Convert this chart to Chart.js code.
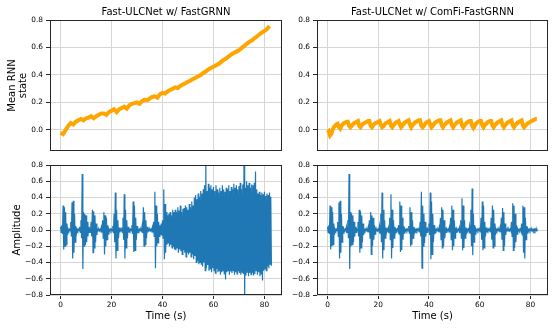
<!DOCTYPE html>
<html>
<head>
<meta charset="utf-8">
<script src="https://cdn.jsdelivr.net/npm/chart.js@4.4.0/dist/chart.umd.min.js"></script>
<style>
  body { margin: 0; background: #fff; }
  #wrap { position: relative; width: 556px; height: 330px; overflow: hidden; }
  canvas { position: absolute; }
</style>
</head>
<body>
<div id="wrap">
  <canvas id="fast_state" width="290" height="152" style="left:0px;top:0px"></canvas>
  <canvas id="comfi_state" width="290" height="152" style="left:266px;top:0px"></canvas>
  <canvas id="fast_wave" width="290" height="178" style="left:0px;top:152px"></canvas>
  <canvas id="comfi_wave" width="290" height="178" style="left:266px;top:152px"></canvas>
</div>
<script>
const titles = ['Fast-ULCNet w/ FastGRNN', 'Fast-ULCNet w/ ComFi-FastGRNN'];
const timeTicks = [0, 20, 40, 60, 80];
const stateTicks = [0.0, 0.2, 0.4, 0.6, 0.8];
const ampTicks = [-0.8, -0.6, -0.4, -0.2, 0.0, 0.2, 0.4, 0.6, 0.8];

// mean RNN state (FastGRNN), one value per second
const stateStepFast = 1;
const stateFast = [
  -0.02, -0.03, 0.00, 0.03, 0.05, 0.04, 0.06, 0.07, 0.08, 0.07,
  0.085, 0.09, 0.10, 0.085, 0.10, 0.11, 0.12, 0.12, 0.11, 0.13,
  0.14, 0.15, 0.13, 0.15, 0.16, 0.17, 0.155, 0.18, 0.19, 0.195,
  0.20, 0.19, 0.21, 0.22, 0.215, 0.23, 0.24, 0.245, 0.235, 0.26,
  0.27, 0.265, 0.28, 0.29, 0.30, 0.31, 0.305, 0.32, 0.33, 0.34,
  0.35, 0.36, 0.37, 0.38, 0.39, 0.40, 0.415, 0.425, 0.44, 0.45,
  0.46, 0.47, 0.48, 0.495, 0.51, 0.52, 0.535, 0.55, 0.56, 0.57,
  0.58, 0.595, 0.61, 0.625, 0.64, 0.65, 0.665, 0.68, 0.695, 0.71,
  0.72, 0.735, 0.755
];

// mean RNN state (ComFi-FastGRNN), one value every 0.5 s
const stateStepComfi = 0.5;
const stateComfi = [
  -0.02, -0.01, -0.04, -0.03, 0.00, 0.02, 0.03, 0.04, 0.045, 0.02,
  0.01, 0.03, 0.04, 0.05, 0.055, 0.06, 0.06, 0.03, 0.02, 0.03,
  0.04, 0.05, 0.055, 0.06, 0.065, 0.03, 0.02, 0.035, 0.045, 0.05,
  0.055, 0.06, 0.065, 0.065, 0.03, 0.02, 0.035, 0.045, 0.05, 0.055,
  0.06, 0.065, 0.04, 0.02, 0.025, 0.04, 0.05, 0.055, 0.06, 0.065,
  0.03, 0.02, 0.035, 0.045, 0.055, 0.06, 0.065, 0.04, 0.02, 0.03,
  0.045, 0.055, 0.06, 0.065, 0.07, 0.04, 0.02, 0.035, 0.045, 0.055,
  0.06, 0.065, 0.07, 0.07, 0.03, 0.02, 0.03, 0.045, 0.055, 0.06,
  0.065, 0.04, 0.02, 0.03, 0.045, 0.055, 0.06, 0.065, 0.07, 0.07,
  0.035, 0.02, 0.035, 0.045, 0.055, 0.06, 0.065, 0.07, 0.035, 0.02,
  0.035, 0.045, 0.055, 0.06, 0.065, 0.07, 0.035, 0.02, 0.035, 0.045,
  0.055, 0.06, 0.065, 0.065, 0.03, 0.015, 0.03, 0.045, 0.055, 0.06,
  0.065, 0.065, 0.035, 0.02, 0.035, 0.045, 0.055, 0.06, 0.065, 0.065,
  0.035, 0.02, 0.035, 0.045, 0.055, 0.06, 0.065, 0.07, 0.035, 0.02,
  0.035, 0.045, 0.055, 0.06, 0.065, 0.07, 0.035, 0.02, 0.035, 0.045,
  0.055, 0.06, 0.065, 0.07, 0.035, 0.02, 0.03, 0.04, 0.05, 0.055,
  0.06, 0.065, 0.07, 0.075, 0.08, 0.08
];

// waveform envelope (max / min in each 0.5 s slot)
const waveStep = 0.5;
const waveFastHi = [
  0.04, 0.06, 0.30, 0.28, 0.22, 0.08, 0.01, 0.01, 0.10, 0.34,
  0.36, 0.20, 0.05, 0.01, 0.01, 0.04, 0.12, 0.69, 0.22, 0.20,
  0.18, 0.10, 0.04, 0.01, 0.10, 0.25, 0.23, 0.18, 0.08, 0.01,
  0.01, 0.01, 0.03, 0.12, 0.22, 0.18, 0.15, 0.06, 0.01, 0.01,
  0.01, 0.05, 0.20, 0.46, 0.25, 0.12, 0.03, 0.01, 0.03, 0.15,
  0.44, 0.25, 0.12, 0.04, 0.01, 0.01, 0.06, 0.35, 0.30, 0.15,
  0.05, 0.01, 0.01, 0.01, 0.05, 0.28, 0.22, 0.12, 0.04, 0.01,
  0.01, 0.01, 0.03, 0.10, 0.47, 0.30, 0.20, 0.10, 0.06, 0.08,
  0.12, 0.50, 0.32, 0.22, 0.18, 0.20, 0.22, 0.18, 0.25, 0.22,
  0.25, 0.22, 0.28, 0.24, 0.30, 0.22, 0.26, 0.27, 0.30, 0.28,
  0.25, 0.32, 0.28, 0.35, 0.30, 0.40, 0.43, 0.38, 0.45, 0.41,
  0.48, 0.45, 0.50, 0.55, 0.85, 0.48, 0.57, 0.52, 0.55, 0.50,
  0.53, 0.48, 0.55, 0.50, 0.46, 0.52, 0.48, 0.55, 0.50, 0.47,
  0.52, 0.50, 0.55, 0.48, 0.53, 0.50, 0.57, 0.52, 0.55, 0.50,
  0.54, 0.58, 0.50, 0.56, 0.85, 0.52, 0.60, 0.55, 0.58, 0.52,
  0.56, 0.55, 0.58, 0.72, 0.50, 0.45, 0.47, 0.43, 0.46, 0.44,
  0.47, 0.42, 0.45, 0.43, 0.46, 0.41
];
const waveFastLo = [
  -0.03, -0.05, -0.24, -0.20, -0.18, -0.06, -0.01, -0.01, -0.08, -0.35,
  -0.28, -0.15, -0.04, -0.01, -0.01, -0.03, -0.10, -0.48, -0.20, -0.18,
  -0.15, -0.08, -0.03, -0.01, -0.08, -0.28, -0.22, -0.15, -0.06, -0.01,
  -0.01, -0.01, -0.03, -0.10, -0.30, -0.20, -0.12, -0.05, -0.01, -0.01,
  -0.01, -0.04, -0.15, -0.35, -0.25, -0.10, -0.03, -0.01, -0.03, -0.12,
  -0.35, -0.22, -0.10, -0.03, -0.01, -0.01, -0.05, -0.27, -0.25, -0.12,
  -0.04, -0.01, -0.01, -0.01, -0.04, -0.20, -0.18, -0.10, -0.03, -0.01,
  -0.01, -0.01, -0.03, -0.08, -0.47, -0.20, -0.16, -0.08, -0.06, -0.07,
  -0.10, -0.36, -0.28, -0.18, -0.16, -0.20, -0.18, -0.22, -0.20, -0.24,
  -0.25, -0.22, -0.28, -0.24, -0.26, -0.30, -0.25, -0.28, -0.33, -0.27,
  -0.30, -0.28, -0.33, -0.30, -0.36, -0.32, -0.40, -0.38, -0.42, -0.40,
  -0.42, -0.45, -0.40, -0.50, -0.47, -0.43, -0.50, -0.48, -0.52, -0.47,
  -0.50, -0.53, -0.48, -0.52, -0.50, -0.55, -0.52, -0.50, -0.54, -0.61,
  -0.52, -0.50, -0.55, -0.51, -0.53, -0.50, -0.55, -0.52, -0.54, -0.50,
  -0.53, -0.55, -0.52, -0.54, -0.85, -0.56, -0.52, -0.57, -0.53, -0.55,
  -0.52, -0.56, -0.54, -0.50, -0.55, -0.52, -0.57, -0.54, -0.62, -0.50,
  -0.48, -0.50, -0.45, -0.47, -0.42, -0.44
];
const waveComfiHi = [
  0.04, 0.06, 0.30, 0.28, 0.22, 0.08, 0.01, 0.01, 0.10, 0.34,
  0.36, 0.20, 0.05, 0.01, 0.01, 0.04, 0.12, 0.69, 0.22, 0.20,
  0.18, 0.10, 0.04, 0.01, 0.10, 0.25, 0.23, 0.18, 0.08, 0.01,
  0.01, 0.01, 0.03, 0.12, 0.22, 0.18, 0.15, 0.06, 0.01, 0.01,
  0.01, 0.05, 0.20, 0.46, 0.25, 0.12, 0.03, 0.01, 0.03, 0.15,
  0.44, 0.25, 0.12, 0.04, 0.01, 0.01, 0.06, 0.35, 0.30, 0.15,
  0.05, 0.01, 0.01, 0.01, 0.05, 0.28, 0.22, 0.12, 0.04, 0.01,
  0.01, 0.01, 0.03, 0.10, 0.47, 0.30, 0.20, 0.10, 0.03, 0.01,
  0.08, 0.46, 0.35, 0.20, 0.06, 0.01, 0.01, 0.01, 0.03, 0.15,
  0.28, 0.25, 0.12, 0.03, 0.01, 0.01, 0.03, 0.15, 0.30, 0.25,
  0.12, 0.03, 0.01, 0.01, 0.03, 0.12, 0.39, 0.30, 0.12, 0.03,
  0.01, 0.01, 0.05, 0.25, 0.51, 0.20, 0.06, 0.01, 0.01, 0.01,
  0.03, 0.15, 0.35, 0.30, 0.10, 0.03, 0.01, 0.01, 0.03, 0.15,
  0.30, 0.25, 0.08, 0.01, 0.01, 0.01, 0.03, 0.15, 0.27, 0.22,
  0.08, 0.01, 0.01, 0.01, 0.01, 0.10, 0.33, 0.30, 0.20, 0.06,
  0.01, 0.01, 0.01, 0.08, 0.30, 0.28, 0.15, 0.05, 0.01, 0.01,
  0.01, 0.01, 0.01, 0.01, 0.01, 0.01
];
const waveComfiLo = [
  -0.03, -0.05, -0.24, -0.20, -0.18, -0.06, -0.01, -0.01, -0.08, -0.35,
  -0.28, -0.15, -0.04, -0.01, -0.01, -0.03, -0.10, -0.48, -0.20, -0.18,
  -0.15, -0.08, -0.03, -0.01, -0.08, -0.28, -0.22, -0.15, -0.06, -0.01,
  -0.01, -0.01, -0.03, -0.10, -0.30, -0.20, -0.12, -0.05, -0.01, -0.01,
  -0.01, -0.04, -0.15, -0.35, -0.25, -0.10, -0.03, -0.01, -0.03, -0.12,
  -0.35, -0.22, -0.10, -0.03, -0.01, -0.01, -0.05, -0.27, -0.25, -0.12,
  -0.04, -0.01, -0.01, -0.01, -0.04, -0.20, -0.18, -0.10, -0.03, -0.01,
  -0.01, -0.01, -0.03, -0.08, -0.47, -0.20, -0.16, -0.08, -0.03, -0.01,
  -0.06, -0.36, -0.30, -0.15, -0.05, -0.01, -0.01, -0.01, -0.03, -0.12,
  -0.22, -0.20, -0.10, -0.03, -0.01, -0.01, -0.03, -0.12, -0.25, -0.20,
  -0.10, -0.03, -0.01, -0.01, -0.03, -0.10, -0.25, -0.22, -0.10, -0.03,
  -0.01, -0.01, -0.04, -0.20, -0.31, -0.15, -0.05, -0.01, -0.01, -0.01,
  -0.03, -0.12, -0.25, -0.22, -0.08, -0.03, -0.01, -0.01, -0.03, -0.12,
  -0.22, -0.20, -0.06, -0.01, -0.01, -0.01, -0.03, -0.12, -0.25, -0.20,
  -0.06, -0.01, -0.01, -0.01, -0.01, -0.08, -0.25, -0.22, -0.15, -0.05,
  -0.01, -0.01, -0.01, -0.06, -0.28, -0.35, -0.12, -0.04, -0.01, -0.01,
  -0.01, -0.01, -0.01, -0.01, -0.01, -0.01
];

Chart.defaults.font.family = 'DejaVu Sans';
Chart.defaults.color = '#000';

const gridColor = '#d6d6d6';
const spineColor = '#262626';

// black box round the plot area, like matplotlib spines
const frame = {
    id: 'frame',
    afterDatasetsDraw(chart) {
        const a = chart.chartArea;
        const ctx = chart.ctx;
        ctx.save();
        ctx.strokeStyle = spineColor;
        ctx.lineWidth = 1;
        ctx.strokeRect(Math.round(a.left) + 0.5, Math.round(a.top) + 0.5,
            Math.round(a.right - a.left) - 1, Math.round(a.bottom - a.top) - 1);
        ctx.restore();
    }
};

function linePoints(values, step) {
    return values.map((v, i) => ({x: i * step, y: v}));
}

// zigzag between the max and min of each slot so it reads as a waveform
function wavePoints(hi, lo, step) {
    let pts = [];
    for (let i = 0; i < hi.length; i++) {
        pts.push({x: i * step, y: hi[i]});
        pts.push({x: i * step + step / 2, y: lo[i]});
    }
    return pts;
}

function fmt(v) {
    return (v < 0 ? '\u2212' : '') + Math.abs(v).toFixed(1);
}

function makeChart(id, pts, color, lw, o) {
    return new Chart(document.getElementById(id), {
        type: 'line',
        data: {
            datasets: [{
                data: pts,
                borderColor: color,
                borderWidth: lw,
                pointRadius: 0,
                tension: 0,
                clip: 0,
            }]
        },
        options: {
            responsive: false,
            animation: false,
            events: [],
            layout: { padding: o.pad },
            plugins: {
                legend: { display: false },
                tooltip: { enabled: false },
                title: {
                    display: !!o.title,
                    text: o.title || '',
                    fullSize: false,
                    color: '#000',
                    font: { size: 10, weight: 'normal', lineHeight: 1.2 },
                    padding: { top: 6, bottom: 2 },
                },
            },
            scales: {
                x: {
                    type: 'linear',
                    min: -4.14,
                    max: 86.9,
                    afterBuildTicks: s => { s.ticks = timeTicks.map(v => ({value: v})); },
                    afterFit: s => { s.height = o.xHeight; s.paddingLeft = 0; s.paddingRight = 0; },
                    border: { display: false },
                    grid: { color: gridColor, lineWidth: 1, drawTicks: o.xLabels, tickLength: 4, tickColor: spineColor },
                    ticks: { display: o.xLabels, padding: 1.5, font: { size: 7.4 }, callback: v => String(v) },
                    title: {
                        display: o.xLabels,
                        text: 'Time (s)',
                        font: { size: 10, lineHeight: 1.1 },
                        padding: { top: 0, bottom: 7.8 },
                    },
                },
                y: {
                    type: 'linear',
                    min: o.yMin,
                    max: o.yMax,
                    afterBuildTicks: s => { s.ticks = o.yTicks.map(v => ({value: v})); },
                    afterFit: s => { s.width = o.yWidth; s.paddingTop = 0; s.paddingBottom = 0; },
                    border: { display: false },
                    grid: { color: gridColor, lineWidth: 1, drawTicks: true, tickLength: 4, tickColor: spineColor },
                    ticks: { padding: 3, font: { size: 7.4 }, callback: v => fmt(v) },
                    title: {
                        display: !!o.yTitle,
                        text: o.yTitle || '',
                        font: { size: 10, lineHeight: 1.1 },
                        padding: { top: o.yTitlePad || 0, bottom: 0 },
                    },
                },
            },
        },
        plugins: [frame],
    });
}

const orange = '#ffa500';
const blue = '#1f77b4';

makeChart('fast_state', linePoints(stateFast, stateStepFast), orange, 4, {
    title: titles[0], pad: {left: 0, right: 8, top: 0, bottom: 1},
    xHeight: 0, xLabels: false, yWidth: 50,
    yMin: -0.153, yMax: 0.8, yTicks: stateTicks,
    yTitle: ['Mean RNN', 'state'], yTitlePad: 7,
});
makeChart('comfi_state', linePoints(stateComfi, stateStepComfi), orange, 4, {
    title: titles[1], pad: {left: 0, right: 8, top: 0, bottom: 1},
    xHeight: 0, xLabels: false, yWidth: 51,
    yMin: -0.153, yMax: 0.8, yTicks: stateTicks,
});
makeChart('fast_wave', wavePoints(waveFastHi, waveFastLo, waveStep), blue, 1.2, {
    pad: {left: 0, right: 8, top: 13, bottom: 0},
    xHeight: 35, xLabels: true, yWidth: 50,
    yMin: -0.8, yMax: 0.8, yTicks: ampTicks,
    yTitle: 'Amplitude', yTitlePad: 11.5,
});
makeChart('comfi_wave', wavePoints(waveComfiHi, waveComfiLo, waveStep), blue, 1.2, {
    pad: {left: 0, right: 8, top: 13, bottom: 0},
    xHeight: 35, xLabels: true, yWidth: 51,
    yMin: -0.8, yMax: 0.8, yTicks: ampTicks,
});
</script>
</body>
</html>
